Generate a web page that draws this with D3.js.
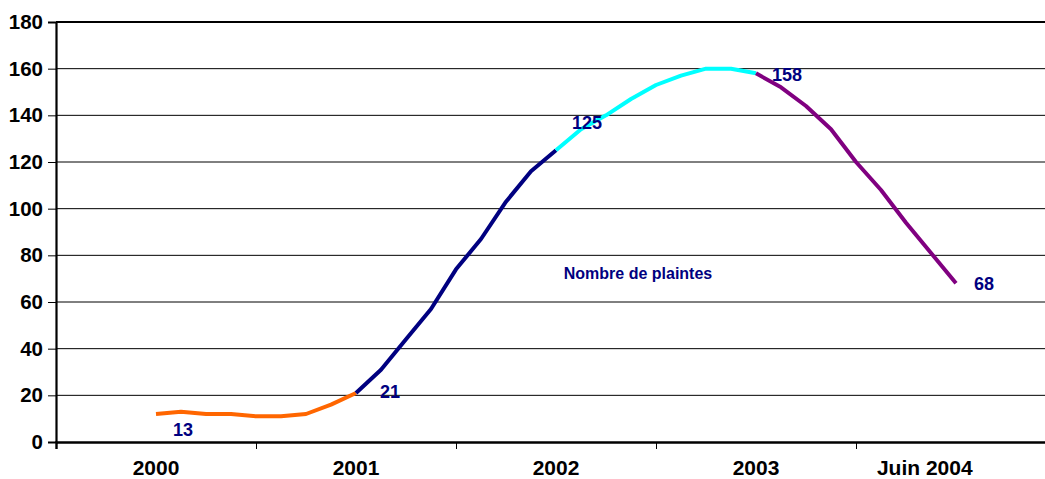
<!DOCTYPE html>
<html>
<head>
<meta charset="utf-8">
<script src="https://cdn.jsdelivr.net/npm/d3@7/dist/d3.min.js"></script>
<style>
  html, body { margin: 0; padding: 0; background: #fff; }
  svg { display: block; font-family: "Liberation Sans", Arial, sans-serif; }
</style>
</head>
<body>
<svg id="chart" width="1045" height="479"></svg>
<script>
// ---- data ----
const categories = ["2000", "2001", "2002", "2003", "Juin 2004"];
const categoryIndex = [0, 8, 16, 24, 30.75];
const values = [
  12, 13, 12, 12, 11, 11, 12, 16, 21,
  31, 44, 57, 74, 87, 103, 116, 125,
  134, 140, 147, 153, 157, 160, 160, 158,
  152, 144, 134, 120, 108, 94, 81, 68
];
const segments = [
  { from: 0, to: 8, color: "#FF6600" },
  { from: 8, to: 16, color: "#000080" },
  { from: 16, to: 24, color: "#00FFFF" },
  { from: 24, to: 32, color: "#800080" }
];
const labelled = [1, 8, 16, 24, 32];
const yTicks = [0, 20, 40, 60, 80, 100, 120, 140, 160, 180];
const xTickIndex = [-4, 4, 12, 20, 28, 36];
const seriesName = "Nombre de plaintes";

// ---- drawing ----
const svg = d3.select("#chart");
const x = d3.scaleLinear().domain([-4, 36]).range([56, 1056]);
const y = d3.scaleLinear().domain([0, 180]).range([442, 22]);

// gridlines
svg.append("g").selectAll("line")
  .data(yTicks.filter(v => v > 0 && v < 180))
  .join("line")
  .attr("x1", x(-4)).attr("x2", x(36))
  .attr("y1", d => y(d)).attr("y2", d => y(d))
  .attr("stroke", "#000").attr("stroke-width", 1);

// top border
svg.append("line")
  .attr("x1", x(-4)).attr("x2", x(36))
  .attr("y1", y(180)).attr("y2", y(180))
  .attr("stroke", "#000").attr("stroke-width", 2.2);

// y axis
const yAxis = svg.append("g")
  .attr("transform", `translate(${x(-4)},0)`)
  .call(d3.axisLeft(y).tickValues(yTicks).tickSize(8).tickPadding(5));
yAxis.select(".domain").attr("stroke", "#000").attr("stroke-width", 2.2);
yAxis.selectAll(".tick line").attr("stroke", "#000").attr("stroke-width", 1);
yAxis.selectAll(".tick text")
  .attr("font-family", "'Liberation Sans', Arial, sans-serif")
  .attr("font-size", 20.5).attr("font-weight", "bold").attr("fill", "#000");

// x axis (ticks only)
const xAxis = svg.append("g")
  .attr("transform", `translate(0,${y(0)})`)
  .call(d3.axisBottom(x).tickValues(xTickIndex).tickSize(7).tickFormat(""));
xAxis.select(".domain").attr("stroke", "#000").attr("stroke-width", 2.4);
xAxis.selectAll(".tick line").attr("stroke", "#000").attr("stroke-width", 1);

// x category labels
svg.append("g").selectAll("text")
  .data(categories)
  .join("text")
  .attr("x", (d, i) => x(categoryIndex[i]))
  .attr("y", 475)
  .attr("text-anchor", "middle")
  .attr("font-size", 21).attr("font-weight", "bold").attr("fill", "#000")
  .text(d => d);

// line segments
const line = d3.line().x(d => x(d.i)).y(d => y(d.v));
segments.forEach(s => {
  const pts = d3.range(s.from, s.to + 1).map(i => ({ i, v: values[i] }));
  svg.append("path")
    .attr("d", line(pts))
    .attr("fill", "none")
    .attr("stroke", s.color)
    .attr("stroke-width", 4)
    .attr("stroke-linejoin", "round");
});

// data labels
const place = {
  1: { dx: 2, dy: 24, anchor: "middle" },
  8: { dx: 24, dy: 5, anchor: "start" },
  16: { dx: 16, dy: -21, anchor: "start" },
  24: { dx: 16, dy: 8, anchor: "start" },
  32: { dx: 18, dy: 7, anchor: "start" }
};
svg.append("g").selectAll("text")
  .data(labelled)
  .join("text")
  .attr("x", i => x(i) + place[i].dx)
  .attr("y", i => y(values[i]) + place[i].dy)
  .attr("text-anchor", i => place[i].anchor)
  .attr("font-size", 18).attr("font-weight", "bold").attr("fill", "#000080")
  .text(i => values[i]);

// series name
svg.append("text")
  .attr("x", 638).attr("y", 279)
  .attr("text-anchor", "middle")
  .attr("font-size", 16).attr("font-weight", "bold").attr("fill", "#000080")
  .text(seriesName);
</script>
</body>
</html>
